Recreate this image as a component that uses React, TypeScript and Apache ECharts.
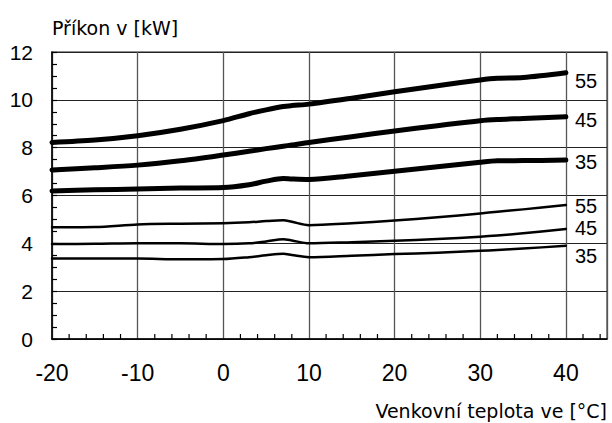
import React, { useEffect, useRef } from "react";
import * as echarts from "echarts";

const temps = [-20, -15, -10, -5, 0, 3, 5, 7, 8, 10, 15, 20, 25, 30, 32, 35, 40];

const thick55 = [8.22, 8.32, 8.5, 8.77, 9.13, 9.42, 9.58, 9.72, 9.76, 9.82, 10.07, 10.34, 10.59, 10.83, 10.9, 10.93, 11.13];
const thick45 = [7.07, 7.16, 7.27, 7.45, 7.69, 7.85, 7.96, 8.06, 8.11, 8.22, 8.46, 8.7, 8.92, 9.13, 9.18, 9.22, 9.29];
const thick35 = [6.19, 6.24, 6.27, 6.31, 6.33, 6.45, 6.6, 6.71, 6.69, 6.67, 6.83, 7.01, 7.2, 7.39, 7.45, 7.46, 7.48];
const thin55 = [4.67, 4.68, 4.79, 4.82, 4.84, 4.88, 4.93, 4.96, 4.9, 4.76, 4.84, 4.95, 5.09, 5.25, 5.32, 5.42, 5.6];
const thin45 = [3.97, 3.98, 4.0, 4.0, 3.97, 4.0, 4.08, 4.17, 4.12, 4.0, 4.05, 4.11, 4.18, 4.28, 4.33, 4.42, 4.6];
const thin35 = [3.37, 3.37, 3.37, 3.33, 3.34, 3.42, 3.5, 3.56, 3.51, 3.42, 3.48, 3.55, 3.61, 3.69, 3.72, 3.78, 3.9];

const seriesLabels = ["55", "45", "35", "55", "45", "35"];
const seriesValues = [thick55, thick45, thick35, thin55, thin45, thin35];
const seriesWidths = [5, 5, 5, 2.5, 2.5, 2.5];
const labelOffsets = [8, 3, 2, 1, -1, 10];

// minor tick positions on the x axis (axis units)
const xMinorTicks = [-18, -16, -14, -12, -8, -6, -4, -2, 2, 4, 6, 8, 12, 14, 16, 18, 22, 24, 26, 28, 32, 34, 36, 38, 42, 44];

const yAxisTitle = "Příkon v [kW]";
const xAxisTitle = "Venkovní teplota ve [°C]";

const X_MIN = -20;
const X_MAX = 44.8;
const Y_MIN = 0;
const Y_MAX = 12;

export default function App() {
  const ref = useRef<HTMLDivElement>(null);
  useEffect(() => {
    document.body.style.margin = "0";
    if (!ref.current) return;
    const chart = echarts.init(ref.current, null, { renderer: "svg" });
    const num = "'Liberation Sans', Arial, sans-serif";
    const series: any[] = seriesValues.map((vals, i) => ({
      type: "line",
      name: (i < 3 ? "Příkon " : "Příkon (nízký) ") + seriesLabels[i],
      data: temps.map((t, j) => [t, vals[j]]),
      showSymbol: false,
      symbol: "none",
      smooth: 0.3,
      lineStyle: { color: "#000", width: seriesWidths[i], cap: "round", join: "round" },
      endLabel: {
        show: true,
        formatter: () => seriesLabels[i],
        color: "#000",
        fontFamily: num,
        fontSize: 20,
        lineHeight: 18,
        distance: 9,
        offset: [0, labelOffsets[i]],
      },
      z: 5,
    }));
    series.push({
      type: "custom",
      silent: true,
      clip: false,
      z: 6,
      data: xMinorTicks.map((v) => [v, Y_MIN]),
      encode: { x: 0, y: 1 },
      renderItem: (_p: any, api: any) => {
        const pt = api.coord([api.value(0), api.value(1)]);
        return {
          type: "rect",
          shape: { x: pt[0] - 0.6, y: pt[1] - 5, width: 1.2, height: 5 },
          style: { fill: "#000" },
        };
      },
    });
    chart.setOption({
      animation: false,
      backgroundColor: "#fff",
      grid: {
        left: 52,
        right: 5,
        top: 52,
        bottom: 84,
        show: true,
        borderColor: "#666",
        borderWidth: 1.5,
      },
      xAxis: {
        type: "value",
        min: X_MIN,
        max: X_MAX,
        interval: 10,
        position: "bottom",
        axisLine: { show: true, onZero: false, lineStyle: { color: "#000", width: 1.5 } },
        axisTick: { show: false },
        axisLabel: {
          showMaxLabel: false,
          color: "#000",
          fontFamily: num,
          fontSize: 23,
          margin: 22,
        },
        splitLine: { show: true, lineStyle: { color: "#555", width: 1.3 } },
      },
      yAxis: {
        type: "value",
        min: Y_MIN,
        max: Y_MAX,
        interval: 2,
        position: "left",
        axisLine: { show: true, onZero: false, lineStyle: { color: "#000", width: 1.5 } },
        axisTick: { show: true, inside: true, length: 5, lineStyle: { color: "#000", width: 1.2 } },
        minorTick: { show: true, splitNumber: 4, length: 5, lineStyle: { color: "#000", width: 1.2 } },
        axisLabel: { color: "#000", fontFamily: num, fontSize: 21, margin: 19 },
        splitLine: { show: true, lineStyle: { color: "#222", width: 1 } },
        name: yAxisTitle,
        nameLocation: "end",
        nameGap: 15,
        nameTextStyle: {
          align: "left",
          verticalAlign: "bottom",
          color: "#000",
          fontFamily: "'DejaVu Sans', sans-serif",
          fontSize: 19,
        },
      },
      graphic: [
        {
          type: "text",
          right: 5,
          top: 401,
          style: {
            text: xAxisTitle,
            fill: "#000",
            font: "19px 'DejaVu Sans', sans-serif",
          },
        },
      ],
      series,
    });
    return () => chart.dispose();
  }, []);
  return <div ref={ref} style={{ width: 612, height: 423 }} />;
}
